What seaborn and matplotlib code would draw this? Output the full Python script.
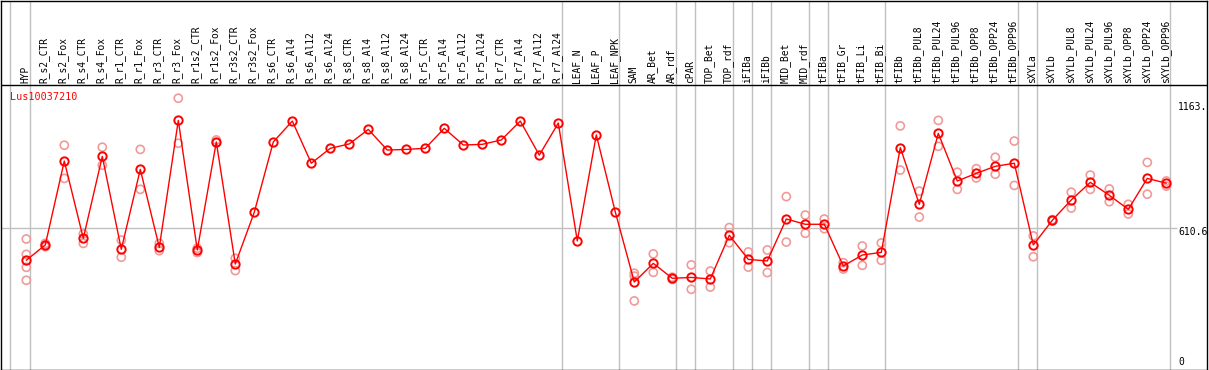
import numpy as np
import pandas as pd
import matplotlib
matplotlib.use("Agg")
import matplotlib.pyplot as plt
import seaborn as sns

categories = ["HYP", "R_s2_CTR", "R_s2_Fox", "R_s4_CTR", "R_s4_Fox", "R_r1_CTR", "R_r1_Fox",
              "R_r3_CTR", "R_r3_Fox", "R_r1s2_CTR", "R_r1s2_Fox", "R_r3s2_CTR", "R_r3s2_Fox",
              "R_s6_CTR", "R_s6_Al4", "R_s6_Al12", "R_s6_Al24", "R_s8_CTR", "R_s8_Al4",
              "R_s8_Al12", "R_s8_Al24", "R_r5_CTR", "R_r5_Al4", "R_r5_Al12", "R_r5_Al24",
              "R_r7_CTR", "R_r7_Al4", "R_r7_Al12", "R_r7_Al24", "LEAF_N", "LEAF_P", "LEAF_NPK",
              "SAM", "AR_Bet", "AR_rdf", "cPAR", "TOP_Bet", "TOP_rdf", "iFIBa", "iFIBb",
              "MID_Bet", "MID_rdf", "tFIBa", "tFIB_Gr", "tFIB_Li", "tFIB_Bi", "tFIBb",
              "tFIBb_PUL8", "tFIBb_PUL24", "tFIBb_PUL96", "tFIBb_OPP8", "tFIBb_OPP24",
              "tFIBb_OPP96", "sXYLa", "sXYLb", "sXYLb_PUL8", "sXYLb_PUL24", "sXYLb_PUL96",
              "sXYLb_OPP8", "sXYLb_OPP24", "sXYLb_OPP96"]

means = [465, 535, 917, 565, 938, 515, 879, 524, 1102, 512, 1004, 448, 684,
         1004, 1099, 907, 975, 995, 1061, 967, 970, 975, 1066, 990, 993,
         1013, 1099, 944, 1090, 553, 1036, 685,
         366, 451, 383, 387, 380, 579, 469, 462, 653, 629, 629, 439, 489, 501,
         978, 720, 1043, 826, 861, 893, 907,
         535, 647, 740, 820, 761, 697, 838, 816]

replicates = [[562, 492, 433, 374], [542, 527, 535], [989, 838], [585, 542], [980, 898],
              [557, 479], [970, 788], [542, 509], [1203, 998], [520, 500], [1013, 1000],
              [474, 418], [], [], [], [], [], [], [], [], [], [], [], [], [], [], [], [], [],
              [], [], [],
              [406, 393, 280], [494, 410], [388, 378], [444, 333], [416, 343], [614, 545],
              [503, 434], [512, 409], [755, 548], [671, 588], [653, 609], [454, 425],
              [530, 442], [544, 465], [1077, 876], [780, 662], [1102, 984], [866, 788],
              [882, 840], [934, 857], [1008, 806], [576, 481], [650, 644], [775, 703],
              [853, 788], [790, 732], [720, 676], [911, 766], [826, 803]]

group_ends = [0, 28, 31, 34, 35, 37, 38, 39, 41, 42, 45, 52, 53, 60]
axis_labels = ["1163.", "610.6", "0"]
axis_values = [1163, 610.6, 0]
title = "Lus10037210"

sns.set_theme(style="white")
plt.rcParams["font.family"] = ["DejaVu Sans Mono", "DejaVu Sans"]

W, H = 1209, 370
fig = plt.figure(figsize=(W / 100, H / 100), dpi=100)
ax = fig.add_axes([1 / W, 0.5 / H, 1206 / W, 369 / H])

# pixel -> data helpers (layout only)
def vy(py):
    return (362.4 - py) * 4.554

def vx(px):
    return (px - 26.3) / 19.0

ax.set_xlim(vx(1), vx(1207))
ax.set_ylim(vy(369.5), vy(0.5))
ax.set_xticks([])
ax.set_yticks([])
for s in ax.spines.values():
    s.set_color("black")
    s.set_linewidth(1.0)

idx = np.arange(len(categories))

# group separators
for b in [-0.85] + [g + 0.2 for g in group_ends]:
    ax.axvline(b, color="#c0c0c0", lw=1.0, zorder=1)
ax.hlines(610.6, vx(1), vx(1177), color="#c0c0c0", lw=1.0, zorder=1)
ax.axhline(vy(85), color="black", lw=1.0, zorder=2)

rep_x, rep_y = [], []
for i, r in enumerate(replicates):
    for v in r:
        rep_x.append(i)
        rep_y.append(v)
reps_df = pd.DataFrame({"x": rep_x, "y": rep_y})
sns.scatterplot(data=reps_df, x="x", y="y", ax=ax, marker="o", s=34,
                facecolor="none", edgecolor="#f09a9a", linewidth=1.2, zorder=3, legend=False)

mean_df = pd.DataFrame({"x": idx, "y": means})
sns.lineplot(data=mean_df, x="x", y="y", ax=ax, color="#ff0000", lw=1.0, marker="o",
             markersize=6.0, markerfacecolor="none", markeredgecolor="#ff0000",
             markeredgewidth=1.4, zorder=4, legend=False)
ax.set_xlabel("")
ax.set_ylabel("")

for i, c in enumerate(categories):
    ax.text(i - 0.05, vy(83), c, rotation=90, ha="center", va="bottom", fontsize=6.9,
            color="black")

ax.text(vx(10), vy(97), title, ha="left", va="center", fontsize=7.3, color="#ff0000")

offsets = [0, -4, 0]
for lab, val, off in zip(axis_labels, axis_values, offsets):
    ax.text(vx(1178), val + off * 4.554, lab, ha="left", va="center", fontsize=7,
            color="black")

fig.savefig("out.png", dpi=100)
